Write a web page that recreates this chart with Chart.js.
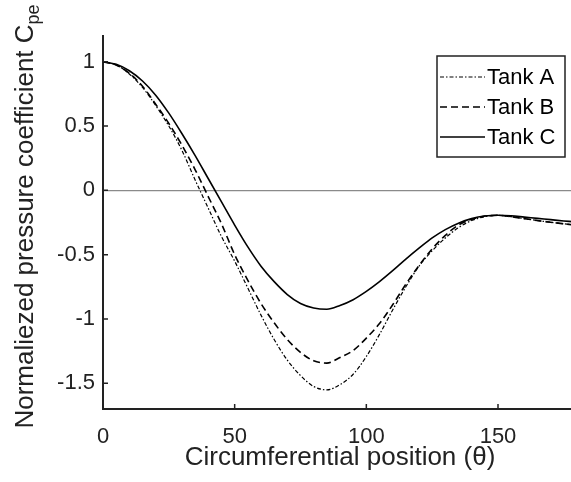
<!DOCTYPE html>
<html>
<head>
<meta charset="utf-8">
<script src="https://cdn.jsdelivr.net/npm/chart.js@4.4.1/dist/chart.umd.min.js"></script>
<style>
  html, body { margin: 0; padding: 0; overflow: hidden; background: #fff; }
  canvas { display: block; }
</style>
</head>
<body>
<canvas id="cpe_cv" width="578" height="482"></canvas>
<script>
// data
var theta = [0, 5, 10, 15, 20, 25, 30, 35, 40, 45, 50, 55, 60, 65, 70, 75, 80, 85, 90,
  95, 100, 105, 110, 115, 120, 125, 130, 135, 140, 145, 150, 155, 160, 165, 170, 175, 178];
var tankA = [1.00, 0.975, 0.905, 0.80, 0.66, 0.50, 0.31, 0.08, -0.14, -0.36, -0.55, -0.76,
  -0.97, -1.16, -1.32, -1.44, -1.525, -1.551, -1.51, -1.43, -1.292, -1.12, -0.93, -0.75,
  -0.59, -0.47, -0.37, -0.29, -0.235, -0.205, -0.195, -0.205, -0.22, -0.235, -0.248, -0.26, -0.267];
var tankB = [1.00, 0.975, 0.91, 0.81, 0.67, 0.52, 0.35, 0.16, -0.05, -0.26, -0.50, -0.70,
  -0.88, -1.03, -1.16, -1.26, -1.325, -1.343, -1.30, -1.245, -1.149, -1.035, -0.89, -0.73,
  -0.585, -0.455, -0.35, -0.27, -0.225, -0.20, -0.194, -0.205, -0.22, -0.235, -0.248, -0.26, -0.267];
var tankC = [1.00, 0.98, 0.93, 0.85, 0.74, 0.60, 0.44, 0.27, 0.09, -0.09, -0.27, -0.44,
  -0.59, -0.71, -0.81, -0.88, -0.915, -0.925, -0.895, -0.85, -0.786, -0.71, -0.625, -0.535,
  -0.45, -0.37, -0.305, -0.255, -0.22, -0.20, -0.194, -0.198, -0.208, -0.218, -0.228, -0.238, -0.243];
var seriesNames = ['Tank A', 'Tank B', 'Tank C'];
var xTicks = [0, 50, 100, 150];
var yTicks = [-1.5, -1, -0.5, 0, 0.5, 1];

var FONT = "'Liberation Sans', Arial, sans-serif";
var INK = '#222';

function pts(ys) {
  return ys.map(function (y, i) { return {x: theta[i], y: y}; });
}

// inward ticks, axis titles and the boxed legend
var matlabLook = {
  id: 'matlabLook',
  afterDatasetsDraw: function (chart) {
    var ctx = chart.ctx, a = chart.chartArea;
    var sx = chart.scales.x, sy = chart.scales.y;
    ctx.save();
    ctx.strokeStyle = INK;
    ctx.lineWidth = 1.5;
    ctx.beginPath();
    xTicks.forEach(function (v) {
      var px = sx.getPixelForValue(v);
      ctx.moveTo(px, a.bottom);
      ctx.lineTo(px, a.bottom - 5);
    });
    yTicks.forEach(function (v) {
      var py = sy.getPixelForValue(v);
      ctx.moveTo(a.left, py);
      ctx.lineTo(a.left + 5, py);
    });
    ctx.stroke();
    ctx.restore();
  },
  afterDraw: function (chart) {
    var ctx = chart.ctx, a = chart.chartArea;
    ctx.save();
    ctx.fillStyle = INK;

    // x title
    ctx.font = '26px ' + FONT;
    ctx.textAlign = 'center';
    ctx.textBaseline = 'alphabetic';
    ctx.fillText('Circumferential position (θ)', (a.left + a.right) / 2, 465);

    // y title with subscript
    var main = 'Normaliezed pressure coefficient C', sub = 'pe';
    ctx.font = '26px ' + FONT;
    var w1 = ctx.measureText(main).width;
    ctx.font = '18px ' + FONT;
    var w2 = ctx.measureText(sub).width;
    ctx.translate(33, (a.top + a.bottom) / 2 - 6);
    ctx.rotate(-Math.PI / 2);
    ctx.textAlign = 'left';
    ctx.font = '26px ' + FONT;
    ctx.fillText(main, -(w1 + w2) / 2, 0);
    ctx.font = '18px ' + FONT;
    ctx.fillText(sub, -(w1 + w2) / 2 + w1, 6);
    ctx.setTransform(1, 0, 0, 1, 0, 0);

    // legend
    var bx = 437, by = 56, bw = 128, bh = 101;
    ctx.fillStyle = '#fff';
    ctx.fillRect(bx, by, bw, bh);
    ctx.strokeStyle = INK;
    ctx.lineWidth = 1.5;
    ctx.strokeRect(bx, by, bw, bh);
    ctx.font = '22px ' + FONT;
    ctx.textAlign = 'left';
    ctx.textBaseline = 'middle';
    chart.data.datasets.forEach(function (ds, i) {
      var ly = by + 21 + i * 30;
      ctx.strokeStyle = ds.borderColor;
      ctx.lineWidth = ds.borderWidth;
      ctx.setLineDash(ds.borderDash || []);
      ctx.beginPath();
      ctx.moveTo(bx + 3, ly);
      ctx.lineTo(bx + 48, ly);
      ctx.stroke();
      ctx.setLineDash([]);
      ctx.fillStyle = '#000';
      ctx.fillText(ds.label, bx + 50, ly + 1);
    });
    ctx.restore();
  }
};

var lineBase = {pointRadius: 0, fill: false, borderColor: '#000', cubicInterpolationMode: 'monotone'};

var chart = new Chart(document.getElementById('cpe_cv'), {
  type: 'line',
  data: {
    datasets: [
      Object.assign({label: seriesNames[0], data: pts(tankA), borderWidth: 1.2, borderDash: [4, 2, 1.5, 2]}, lineBase),
      Object.assign({label: seriesNames[1], data: pts(tankB), borderWidth: 1.6, borderDash: [7, 4]}, lineBase),
      Object.assign({label: seriesNames[2], data: pts(tankC), borderWidth: 1.6}, lineBase)
    ]
  },
  options: {
    responsive: false,
    animation: false,
    layout: {padding: {top: 36, right: 1, left: 0, bottom: 0}},
    plugins: {legend: {display: false}, tooltip: {enabled: false}},
    scales: {
      x: {
        type: 'linear',
        min: 0,
        max: 180,
        afterBuildTicks: function (s) { s.ticks = xTicks.map(function (v) { return {value: v}; }); },
        afterFit: function (s) { s.height = 73; },
        grid: {display: false},
        border: {display: true, color: INK, width: 2},
        ticks: {
          color: INK, padding: 7, maxRotation: 0,
          font: {family: FONT, size: 22},
          callback: function (v) { return String(v); }
        }
      },
      y: {
        min: -1.7,
        max: 1.2,
        afterBuildTicks: function (s) { s.ticks = yTicks.map(function (v) { return {value: v}; }); },
        afterFit: function (s) { s.width = 103; },
        grid: {
          drawTicks: false,
          lineWidth: 1.2,
          color: function (c) { return c.tick && c.tick.value === 0 ? '#8a8a8a' : 'rgba(0,0,0,0)'; }
        },
        border: {display: true, color: INK, width: 2},
        ticks: {
          color: INK, padding: 8,
          font: {family: FONT, size: 22},
          callback: function (v) { return String(v); }
        }
      }
    }
  },
  plugins: [matlabLook]
});
</script>
</body>
</html>
